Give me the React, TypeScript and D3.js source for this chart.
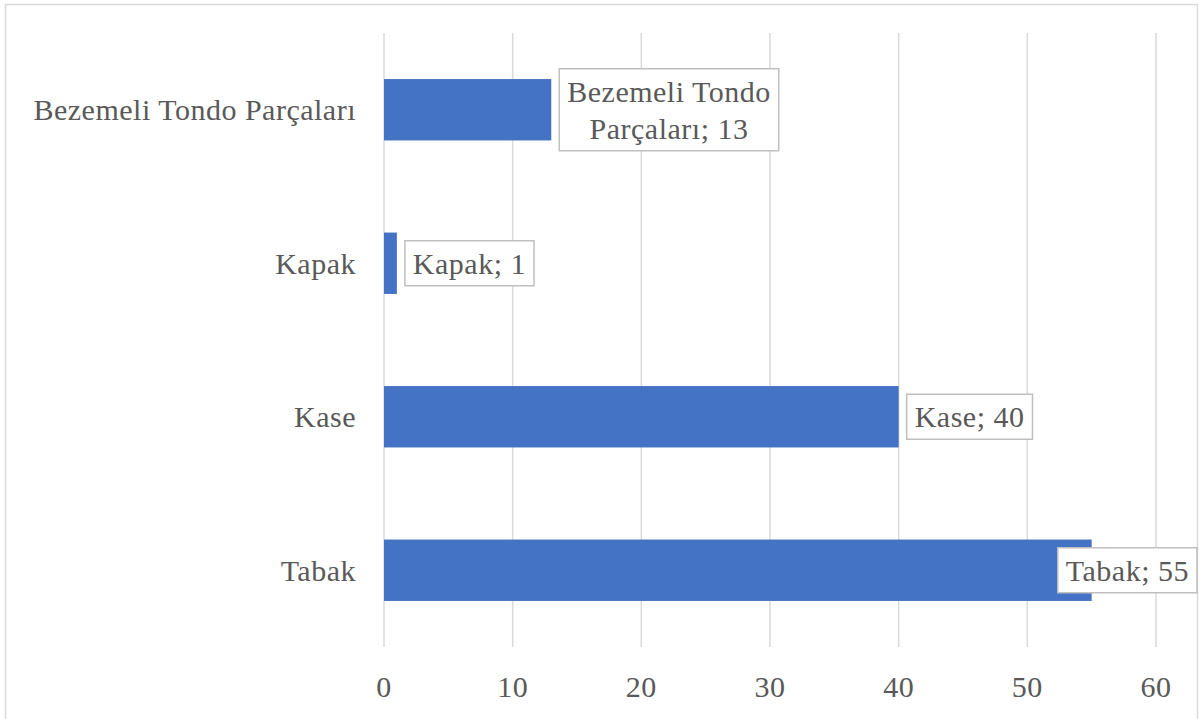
import React, { useEffect, useRef } from "react";
import * as d3 from "d3";

const categories = ["Bezemeli Tondo Parçaları", "Kapak", "Kase", "Tabak"];
const values = [13, 1, 40, 55];
const labelLines = [["Bezemeli Tondo", "Parçaları; 13"], ["Kapak; 1"], ["Kase; 40"], ["Tabak; 55"]];
const xTicks = [0, 10, 20, 30, 40, 50, 60];

const W = 1199, H = 719;
const FONT = "'Liberation Serif', 'Times New Roman', serif";
const FS = 30;
const LS = 0.5;
const TXT = "#595959";

export default function App() {
  const ref = useRef<SVGSVGElement>(null);
  useEffect(() => {
    const svg = d3.select(ref.current);
    svg.selectAll("*").remove();
    const x = d3.scaleLinear().domain([0, 60]).range([384, 1156]);
    const y = d3.scaleBand<string>().domain(categories).range([33, 647]).paddingInner(0.6).paddingOuter(0.3);

    svg.append("rect").attr("x", 5.5).attr("y", 4.5).attr("width", 1192).attr("height", 730)
      .attr("fill", "#fff").attr("stroke", "#d9d9d9").attr("stroke-width", 1.5);

    svg.append("g").selectAll("line").data(xTicks).join("line")
      .attr("x1", d => x(d)).attr("x2", d => x(d)).attr("y1", 33).attr("y2", 647)
      .attr("stroke", "#d9d9d9").attr("stroke-width", 1.5);

    svg.append("g").selectAll("text").data(xTicks).join("text")
      .attr("x", d => x(d)).attr("y", 697).attr("text-anchor", "middle")
      .attr("font-family", FONT).attr("font-size", FS).attr("letter-spacing", LS).attr("fill", TXT).text(d => String(d));

    svg.append("g").selectAll("text").data(categories).join("text")
      .attr("x", 356).attr("y", d => (y(d) as number) + y.bandwidth() / 2).attr("dy", "0.35em")
      .attr("text-anchor", "end").attr("font-family", FONT).attr("font-size", FS).attr("letter-spacing", LS)
      .attr("fill", TXT).text(d => d);

    svg.append("g").selectAll("rect").data(categories).join("rect")
      .attr("x", x(0)).attr("y", d => y(d) as number)
      .attr("width", (d, i) => x(values[i]) - x(0)).attr("height", y.bandwidth())
      .attr("fill", "#4472C4");

    const lineH = 37;
    categories.forEach((c, i) => {
      const g = svg.append("g");
      const cy = (y(c) as number) + y.bandwidth() / 2;
      const lines = labelLines[i];
      const texts = lines.map((t, k) =>
        g.append("text").attr("font-family", FONT).attr("font-size", FS).attr("letter-spacing", LS).attr("fill", TXT)
          .attr("text-anchor", "middle").attr("dy", "0.35em")
          .attr("y", cy + (k - (lines.length - 1) / 2) * lineH).text(t));
      const tw = Math.max(...texts.map(t => (t.node() as SVGTextElement).getComputedTextLength()));
      const bw = tw + 16;
      const bh = lines.length * lineH + 8;
      let bx = x(values[i]) + 8;
      if (bx + bw > 1197) bx = 1197 - bw;
      texts.forEach(t => t.attr("x", bx + bw / 2));
      g.insert("rect", "text").attr("x", bx).attr("y", cy - bh / 2).attr("width", bw).attr("height", bh)
        .attr("fill", "#fff").attr("stroke", "#bfbfbf").attr("stroke-width", 1.5);
    });
  }, []);
  return <svg ref={ref} width={W} height={H} style={{ position: "absolute", left: 0, top: 0, display: "block" }} />;
}
